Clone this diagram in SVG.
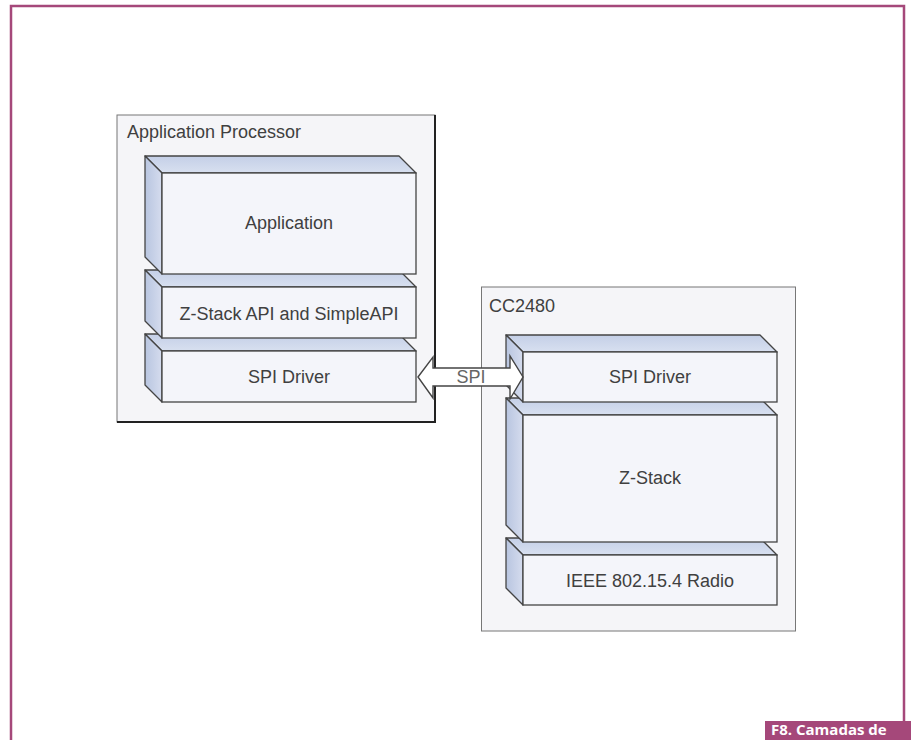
<svg xmlns="http://www.w3.org/2000/svg" width="911" height="740" viewBox="0 0 911 740">
<style>
.frame{stroke:#a5487a;stroke-width:2.5;fill:none}
.cont{fill:#f5f5f8}
.lbl{font-family:"Liberation Sans",Arial,sans-serif;font-size:18px;fill:#404040}
.ctr{text-anchor:middle}
.front{fill:#f4f5fa;stroke:#444;stroke-width:1.3}
.top{fill:url(#gTop);stroke:#444;stroke-width:1.3;stroke-linejoin:round}
.side{fill:url(#gSide);stroke:#444;stroke-width:1.3;stroke-linejoin:round}
.arrow{fill:#ffffff;stroke:#444;stroke-width:1.4;stroke-linejoin:miter}
</style>
<defs>
<linearGradient id="gTop" x1="0" y1="0" x2="0" y2="1">
<stop offset="0" stop-color="#c4cfe7"/>
<stop offset="1" stop-color="#d8e0f0"/>
</linearGradient>
<linearGradient id="gSide" x1="0" y1="0" x2="1" y2="0">
<stop offset="0" stop-color="#b8c5e0"/>
<stop offset="1" stop-color="#d5dcee"/>
</linearGradient>
</defs>
<rect width="911" height="740" fill="#ffffff"/>
<path class="frame" d="M11,740 V6 H904 V721"/>
<g id="caption">
<rect x="765" y="721" width="146" height="19" fill="#a5487a"/>
<text x="771" y="735" font-family="'Open Sans','DejaVu Sans',sans-serif" font-size="15" font-weight="bold" fill="#ffffff">F8. Camadas de</text>
</g>
<g id="app-processor">
<rect class="cont" x="117" y="115" width="318" height="307" stroke="#777" stroke-width="1"/>
<path d="M435,115 V422 H117" fill="none" stroke="#222" stroke-width="2"/>
<text class="lbl" x="127" y="138">Application Processor</text>
</g>
<g id="cc2480">
<rect class="cont" x="481.5" y="287" width="314" height="344" stroke="#777" stroke-width="1"/>
<text class="lbl" x="489" y="312">CC2480</text>
</g>
<g id="spi-driver-ap">
<polygon class="top" points="145,334 399,334 416,351 162,351"/>
<polygon class="side" points="145,334 162,351 162,402 145,385"/>
<rect class="front" x="162" y="351" width="254" height="51"/>
<text class="lbl ctr" x="289" y="383">SPI Driver</text>
</g>
<g id="zstack-api">
<polygon class="top" points="145,270 399,270 416,287 162,287"/>
<polygon class="side" points="145,270 162,287 162,338 145,321"/>
<rect class="front" x="162" y="287" width="254" height="51"/>
<text class="lbl ctr" x="289" y="320">Z-Stack API and SimpleAPI</text>
</g>
<g id="application">
<polygon class="top" points="145,156 399,156 416,173 162,173"/>
<polygon class="side" points="145,156 162,173 162,274 145,257"/>
<rect class="front" x="162" y="173" width="254" height="101"/>
<text class="lbl ctr" x="289" y="229">Application</text>
</g>
<g id="ieee-radio">
<polygon class="top" points="506,538 760,538 777,555 523,555"/>
<polygon class="side" points="506,538 523,555 523,605 506,588"/>
<rect class="front" x="523" y="555" width="254" height="50"/>
<text class="lbl ctr" x="650" y="587">IEEE 802.15.4 Radio</text>
</g>
<g id="zstack">
<polygon class="top" points="506,398 760,398 777,415 523,415"/>
<polygon class="side" points="506,398 523,415 523,542 506,525"/>
<rect class="front" x="523" y="415" width="254" height="127"/>
<text class="lbl ctr" x="650" y="484">Z-Stack</text>
</g>
<g id="spi-driver-cc">
<polygon class="top" points="506,335 760,335 777,352 523,352"/>
<polygon class="side" points="506,335 523,352 523,402 506,385"/>
<rect class="front" x="523" y="352" width="254" height="50"/>
<text class="lbl ctr" x="650" y="383">SPI Driver</text>
</g>
<g id="connectors">
<polygon class="arrow" points="418,377 433,357 433,368 510,368 510,356 523,377 510,399 510,386 433,386 433,398"/>
<text class="lbl ctr" x="471" y="383" style="fill:#666">SPI</text>
</g>
</svg>
